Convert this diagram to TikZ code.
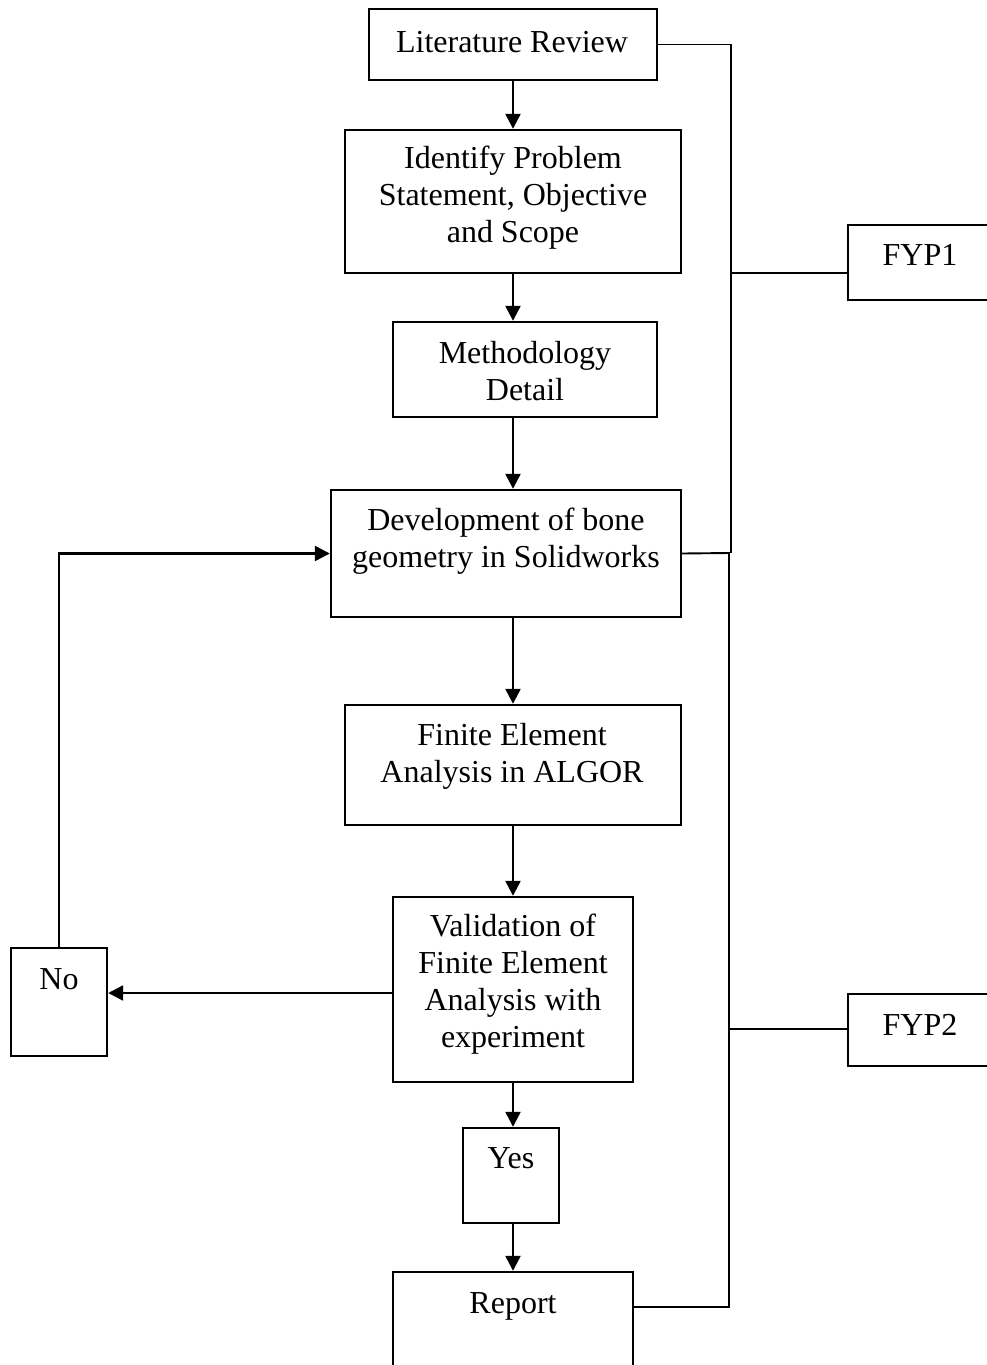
\documentclass[tikz,border=0pt]{standalone}
\usepackage{fontspec}
\setmainfont{Liberation Serif}
\usetikzlibrary{arrows.meta,calc}
\begin{document}
\begin{tikzpicture}[x=1pt,y=-1pt,
  box/.style={draw, line width=2.4pt, inner sep=0pt, rectangle},
  txt/.style={anchor=base, inner sep=0pt, align=center, font=\fontsize{32}{37}\selectfont},
  arr/.style={line width=2.4pt, -{Triangle[length=15pt,width=15pt]}},
  brk/.style={line width=1.9pt}]
\useasboundingbox (0,0) rectangle (987,1365);
\clip (0,0) rectangle (987,1365);
\fill[white] (0,0) rectangle (987,1365);
% boxes
\node[box, minimum width=288, minimum height=71] (lit) at (513,44.5) {};
\node[box, minimum width=336, minimum height=143] (ident) at (513,201.5) {};
\node[box, minimum width=264, minimum height=95] (meth) at (525,369.5) {};
\node[box, minimum width=350, minimum height=127] (dev) at (506,553.5) {};
\node[box, minimum width=336, minimum height=120] (fin) at (513,765) {};
\node[box, minimum width=240, minimum height=185] (val) at (513,989.5) {};
\node[box, minimum width=96, minimum height=95] (yes) at (511,1175.5) {};
\node[box, minimum width=240, minimum height=150] (report) at (513,1347) {};
\node[box, minimum width=96, minimum height=108] (no) at (59,1002) {};
\node[box, minimum width=200, minimum height=75] (fyp1) at (948,262.5) {};
\node[box, minimum width=200, minimum height=72] (fyp2) at (948,1030) {};
% texts (base anchor = baseline of the last line)
\node[txt] (tlit) at (512,52) {Literature Review};
\node[txt] (tident) at (513,242) {Identify Problem\\Statement, Objective\\and Scope};
\node[txt] (tmeth) at (525,400) {Methodology\\Detail};
\node[txt] (tdev) at (506,567) {Development of bone\\geometry in Solidworks};
\node[txt] (tfin) at (512,782) {Finite Element\\Analysis in ALGOR};
\node[txt] (tval) at (513,1047) {Validation of\\Finite Element\\Analysis with\\experiment};
\node[txt] (tyes) at (511,1168) {Yes};
\node[txt] (trep) at (513,1313) {Report};
\node[txt] (tno) at (59,989) {No};
\node[txt] (tf1) at (920,265) {FYP1};
\node[txt] (tf2) at (920,1035) {FYP2};
% main flow
\draw[arr] (lit.south) -- (lit.south |- ident.north);
\draw[arr] (ident.south) -- (ident.south |- meth.north);
\draw[arr] (ident.south |- meth.south) -- (ident.south |- dev.north);
\draw[arr] (fin.north |- dev.south) -- (fin.north);
\draw[arr] (fin.south) -- (fin.south |- val.north);
\draw[arr] (val.south) -- (val.south |- yes.north);
\draw[arr] (report.north |- yes.south) -- (report.north);
% No branch
\coordinate (vn) at (393,993);
\draw[arr] (vn) -- (vn -| no.east);
\draw[arr] (no.north) |- (dev.west);
% right brackets
\coordinate (b1) at (731,553);
\coordinate (c1) at (731,273);
\coordinate (b2) at (729,553);
\coordinate (rp) at (633,1307);
\coordinate (c2) at (729,1029);
\draw[brk] (lit.east) -| (b1);
\draw[brk] (c1) -- (c1 -| fyp1.west);
\draw[brk] (dev.east) -- (b2) |- (rp);
\draw[brk] (c2) -- (c2 -| fyp2.west);
\end{tikzpicture}
\end{document}
